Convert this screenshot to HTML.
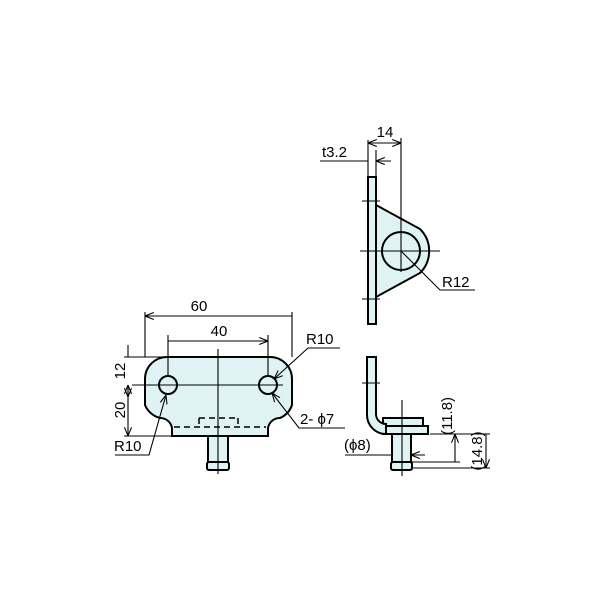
<!DOCTYPE html>
<html><head><style>body{margin:0;background:#fff}svg{display:block}text{font-family:"Liberation Sans",sans-serif;font-size:15px;fill:#000}</style></head><body>
<svg width="600" height="600" viewBox="0 0 600 600" xmlns="http://www.w3.org/2000/svg">
<defs><marker id="a" viewBox="0 0 10 10" refX="10" refY="5" markerWidth="8" markerHeight="8" orient="auto-start-reverse"><path d="M0,1 L10,5 L0,9" fill="none" stroke="#000" stroke-width="1.2"/></marker></defs>
<g stroke="#000" fill="none" stroke-width="1.1">
<!-- front view -->
<rect x="208" y="434" width="20" height="34" fill="#dff3f5" stroke-width="2"/>
<rect x="207" y="462" width="22" height="8" rx="2" fill="#dff3f5" stroke-width="2"/>
<path d="M168,357 L270,357 A22,22 0 0 1 292,379 L292,405 A22,22 0 0 1 280,418 A12,12 0 0 0 268,428 L268,436 L172,436 L172,428 A12,12 0 0 0 160,418 A22,22 0 0 1 145,405 L145,379 A22,22 0 0 1 168,357 Z" fill="#dff3f5" stroke-width="2"/>
<circle cx="168" cy="385" r="9" stroke-width="2"/>
<circle cx="268" cy="385" r="9" stroke-width="2"/>
<path d="M174,427 L266,427" stroke-dasharray="6,4" stroke-width="1.5"/>
<path d="M199,418 L199,427 M238,418 L238,427 M199,418 L235,418" stroke-dasharray="6,4" stroke-width="1.5"/>
<path d="M132,385 L283,385 M218,349 L218,474" />
<path d="M145,357 L145,312 M292,357 L292,312 M168,376 L168,335 M268,376 L268,335"/>
<path d="M145,316 L292,316 M168,341 L268,341" marker-start="url(#a)" marker-end="url(#a)"/>
<path d="M124,357 L170,357 M124,436 L172,436"/>
<path d="M128,345 L128,357 M128,385 L128,397" marker-end="url(#a)"/>
<path d="M128,385 L128,436" marker-start="url(#a)" marker-end="url(#a)"/>
<path d="M340,348 L308,348 L274,379" marker-end="url(#a)"/>
<path d="M345,428 L299,428 L272,393" marker-end="url(#a)"/>
<path d="M115,455 L149,455 L166,395" marker-end="url(#a)"/>
</g>
<text x="199" y="311" text-anchor="middle">60</text>
<text x="219" y="336" text-anchor="middle">40</text>
<text x="306" y="344">R10</text>
<text x="300" y="424">2- ϕ7</text>
<text x="114" y="451">R10</text>
<text transform="translate(125,371) rotate(-90)" text-anchor="middle">12</text>
<text transform="translate(125,410) rotate(-90)" text-anchor="middle">20</text>
<!-- side view top -->
<g stroke="#000" fill="none" stroke-width="1.1">
<path d="M376,205 L420,229 A31,31 0 0 1 420,273 L376,297 Z" fill="#dff3f5" stroke-width="2"/>
<rect x="368" y="177" width="8" height="147" fill="#dff3f5" stroke-width="2"/>
<circle cx="401" cy="251" r="19" stroke-width="2"/>
<path d="M360,251 L440,251 M401,138 L401,272 M362,201 L380,201 M362,299 L380,299 M368,140 L368,177 M376,150 L376,177"/>
<path d="M368,143 L401,143" marker-start="url(#a)" marker-end="url(#a)"/>
<path d="M320,161 L368,161 M391,161 L376,161" marker-end="url(#a)"/>
<path d="M475,290 L440,290 L401,251"/>
</g>
<text x="385" y="137" text-anchor="middle">14</text>
<text x="322" y="157">t3.2</text>
<text x="442" y="287">R12</text>
<!-- side view bottom -->
<g stroke="#000" fill="none" stroke-width="1.1">
<rect x="392" y="434" width="19" height="28" fill="#dff3f5" stroke-width="2"/>
<rect x="391" y="462" width="21" height="8" rx="2" fill="#dff3f5" stroke-width="2"/>
<rect x="383" y="418" width="40" height="9" fill="#dff3f5" stroke-width="2"/>
<rect x="383" y="426" width="45" height="8" fill="#dff3f5" stroke-width="2"/>
<path d="M367,357 L376,357 L376,414 A10,10 0 0 0 386,424 L386,434 A19,19 0 0 1 367,415 Z" fill="#dff3f5" stroke-width="2"/>
<path d="M362,383 L380,383 M402,400 L402,476"/>
<path d="M430,434 L490,434 M412,462 L460,462 M412,468 L490,468"/>
<path d="M455,434 L455,462 M486,434 L486,468" marker-start="url(#a)" marker-end="url(#a)"/>
<path d="M345,455 L392,455 M425,455 L411,455" marker-end="url(#a)"/>
</g>
<text transform="translate(452,416) rotate(-90)" text-anchor="middle">(11.8)</text>
<text transform="translate(482,451) rotate(-90)" text-anchor="middle">(14.8)</text>
<text x="344" y="450">(ϕ8)</text>
</svg>
</body></html>
